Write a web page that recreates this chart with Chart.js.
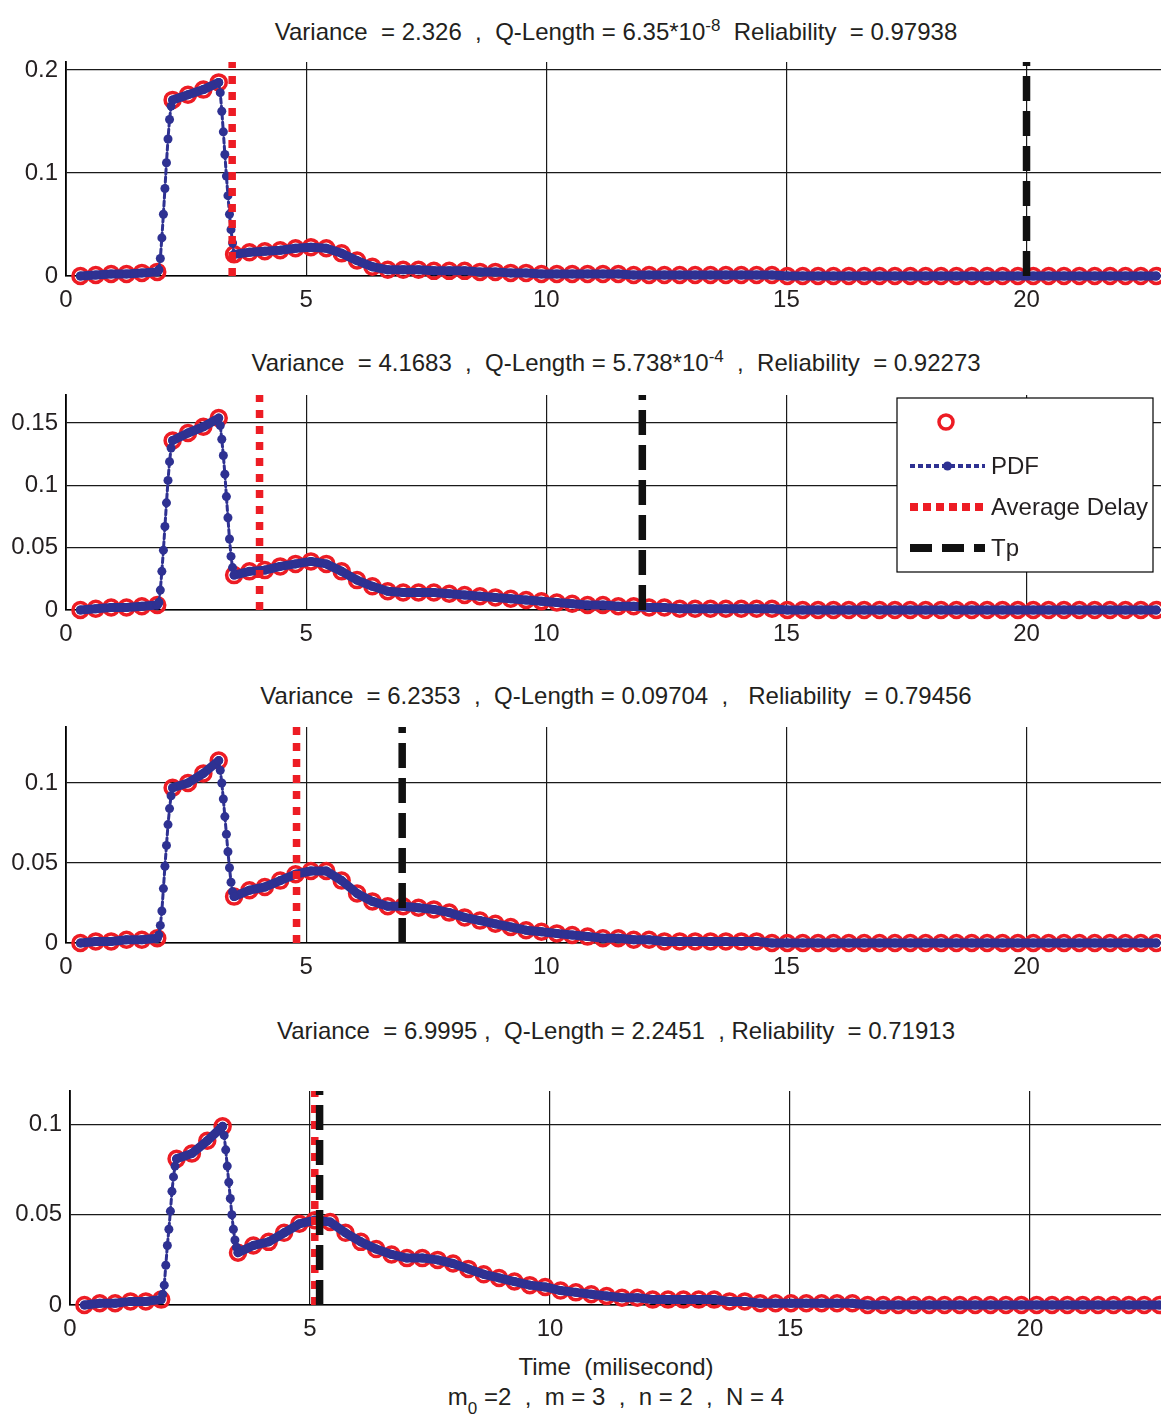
<!DOCTYPE html>
<html>
<head>
<meta charset="utf-8">
<script src="https://cdn.jsdelivr.net/npm/chart.js@4.4.1/dist/chart.umd.min.js"></script>
<style>
    body { margin: 0; background: #fff; }
    #page { position: relative; width: 1161px; height: 1419px; overflow: hidden;
            font-family: 'Liberation Sans', Arial, sans-serif; color: #231f20; background: #fff; }
    .ttl { position: absolute; left: 616px; transform: translateX(-50%); font-size: 24px;
           line-height: 28px; white-space: pre; }
    .ttl sup { font-size: 17px; vertical-align: 9px; line-height: 0; }
    .ttl sub { font-size: 17px; vertical-align: -9px; line-height: 0; }
    canvas { position: absolute; left: 0; }
</style>
</head>
<body>
<div id="page">
    <div class="ttl" style="top:18px">Variance  = 2.326  ,  Q-Length = 6.35*10<sup>-8</sup>  Reliability  = 0.97938</div>
    <div class="ttl" style="top:349px">Variance  = 4.1683  ,  Q-Length = 5.738*10<sup>-4</sup>  ,  Reliability  = 0.92273</div>
    <div class="ttl" style="top:682px">Variance  = 6.2353  ,  Q-Length = 0.09704  ,   Reliability  = 0.79456</div>
    <div class="ttl" style="top:1017px">Variance  = 6.9995 ,  Q-Length = 2.2451  , Reliability  = 0.71913</div>
    <div class="ttl" style="top:1353px">Time  (milisecond)</div>
    <div class="ttl" style="top:1383px">m<sub>0</sub> =2  ,  m = 3  ,  n = 2  ,  N = 4</div>

    <canvas id="c1" width="1161" height="275" style="top:50px"></canvas>
    <canvas id="c2" width="1161" height="275" style="top:383px"></canvas>
    <canvas id="c3" width="1161" height="275" style="top:715px"></canvas>
    <canvas id="c4" width="1161" height="273" style="top:1079px"></canvas>
</div>

<script>
// Sample times of the red circles (ms)
const TIME = [0.30, 0.62, 0.94, 1.26, 1.58, 1.90, 2.22, 2.54, 2.86, 3.18,
    3.50, 3.82, 4.14, 4.46, 4.78, 5.10, 5.42, 5.74, 6.06, 6.38,
    6.70, 7.02, 7.34, 7.66, 7.98, 8.30, 8.62, 8.94, 9.26, 9.58,
    9.90, 10.22, 10.54, 10.86, 11.18, 11.50, 11.82, 12.14, 12.46, 12.78,
    13.10, 13.42, 13.74, 14.06, 14.38, 14.70, 15.02, 15.34, 15.66, 15.98,
    16.30, 16.62, 16.94, 17.26, 17.58, 17.90, 18.22, 18.54, 18.86, 19.18,
    19.50, 19.82, 20.14, 20.46, 20.78, 21.10, 21.42, 21.74, 22.06, 22.38,
    22.70];

// Extra PDF samples on the steep edges (only the blue curve has them)
const RISE_T = [1.932, 1.964, 1.996, 2.028, 2.060, 2.092, 2.124, 2.156, 2.188];
const FALL_T = [3.212, 3.244, 3.276, 3.308, 3.340, 3.372, 3.404, 3.436, 3.468];

// Panel 1
const PDF_1 = [0.000, 0.001, 0.002, 0.002, 0.003, 0.004, 0.171, 0.176, 0.181, 0.188,
    0.021, 0.023, 0.024, 0.025, 0.027, 0.028, 0.027, 0.022, 0.015, 0.009,
    0.006, 0.006, 0.006, 0.005, 0.005, 0.005, 0.004, 0.004, 0.003, 0.003,
    0.002, 0.002, 0.002, 0.002, 0.002, 0.002, 0.001, 0.001, 0.001, 0.001,
    0.001, 0.001, 0.001, 0.001, 0.001, 0.001, 0, 0, 0, 0,
    0, 0, 0, 0, 0, 0, 0, 0, 0, 0,
    0, 0, 0, 0, 0, 0, 0, 0, 0, 0,
    0];
const RISE_1 = [0.006, 0.017, 0.037, 0.060, 0.085, 0.110, 0.133, 0.152, 0.165];
const FALL_1 = [0.178, 0.160, 0.140, 0.118, 0.097, 0.078, 0.060, 0.045, 0.032];

// Panel 2
const PDF_2 = [0.000, 0.001, 0.002, 0.002, 0.003, 0.004, 0.136, 0.142, 0.147, 0.154,
    0.028, 0.031, 0.032, 0.035, 0.037, 0.039, 0.037, 0.031, 0.024, 0.019,
    0.015, 0.014, 0.014, 0.014, 0.013, 0.012, 0.011, 0.010, 0.009, 0.008,
    0.007, 0.006, 0.005, 0.004, 0.004, 0.003, 0.003, 0.002, 0.002, 0.001,
    0.001, 0.001, 0.001, 0.001, 0.001, 0.001, 0, 0, 0, 0,
    0, 0, 0, 0, 0, 0, 0, 0, 0, 0,
    0, 0, 0, 0, 0, 0, 0, 0, 0, 0,
    0];
const RISE_2 = [0.006, 0.016, 0.031, 0.048, 0.067, 0.086, 0.104, 0.119, 0.130];
const FALL_2 = [0.148, 0.137, 0.124, 0.109, 0.091, 0.074, 0.057, 0.043, 0.034];

// Panel 3
const PDF_3 = [0.000, 0.001, 0.001, 0.002, 0.002, 0.003, 0.097, 0.100, 0.106, 0.114,
    0.029, 0.033, 0.035, 0.039, 0.043, 0.045, 0.045, 0.039, 0.031, 0.026,
    0.023, 0.023, 0.022, 0.021, 0.019, 0.016, 0.014, 0.012, 0.010, 0.008,
    0.007, 0.006, 0.005, 0.004, 0.003, 0.003, 0.002, 0.002, 0.001, 0.001,
    0.001, 0.001, 0.001, 0.001, 0.001, 0, 0, 0, 0, 0,
    0, 0, 0, 0, 0, 0, 0, 0, 0, 0,
    0, 0, 0, 0, 0, 0, 0, 0, 0, 0,
    0];
const RISE_3 = [0.005, 0.011, 0.020, 0.034, 0.048, 0.061, 0.074, 0.084, 0.092];
const FALL_3 = [0.108, 0.100, 0.090, 0.079, 0.068, 0.057, 0.047, 0.038, 0.032];

// Panel 4
const PDF_4 = [0.000, 0.001, 0.001, 0.002, 0.002, 0.003, 0.081, 0.084, 0.091, 0.099,
    0.029, 0.033, 0.035, 0.040, 0.045, 0.047, 0.046, 0.040, 0.035, 0.031,
    0.028, 0.026, 0.026, 0.025, 0.023, 0.020, 0.017, 0.015, 0.013, 0.011,
    0.010, 0.008, 0.007, 0.006, 0.005, 0.004, 0.004, 0.003, 0.003, 0.003,
    0.003, 0.003, 0.002, 0.002, 0.001, 0.001, 0.001, 0.001, 0.001, 0.001,
    0.001, 0, 0, 0, 0, 0, 0, 0, 0, 0,
    0, 0, 0, 0, 0, 0, 0, 0, 0, 0,
    0];
const RISE_4 = [0.006, 0.011, 0.022, 0.033, 0.042, 0.052, 0.063, 0.071, 0.077];
const FALL_4 = [0.094, 0.086, 0.077, 0.068, 0.059, 0.050, 0.042, 0.036, 0.032];

// Vertical markers per panel
const AVG_DELAY = [3.46, 4.03, 4.80, 5.10];
const TP = [20.0, 12.0, 7.0, 5.20];

// Axes
const X_TICKS = [0, 5, 10, 15, 20];
const X_MAX = [22.8, 22.8, 22.8, 22.73];
const Y_MAX = [0.2078, 0.1725, 0.135, 0.1186];
const Y_TICKS_1 = [0, 0.1, 0.2];
const Y_TICKS_2 = [0, 0.05, 0.1, 0.15];
const Y_TICKS_3 = [0, 0.05, 0.1];
const Y_TICKS_4 = [0, 0.05, 0.1];

const RED = '#ed1c24';
const NAVY = '#2e3192';
const INK = '#231f20';
const FONT = "'Liberation Sans', Arial, sans-serif";

// steep parts of the PDF are drawn as a thin dash-dot, the rest as a thick band
const steep = ctx => Math.abs(ctx.p1.y - ctx.p0.y) > 2 * Math.abs(ctx.p1.x - ctx.p0.x);

function pdfPoints(pdf, rise, fall) {
    const pts = TIME.map((t, i) => ({ x: t, y: pdf[i] }));
    RISE_T.forEach((t, i) => pts.push({ x: t, y: rise[i] }));
    FALL_T.forEach((t, i) => pts.push({ x: t, y: fall[i] }));
    return pts.sort((a, b) => a.x - b.x);
}

// no label overflow padding, the plot box is placed by hand
function noPad(ax) {
    ax.paddingTop = 0;
    ax.paddingBottom = 0;
    ax.paddingLeft = 0;
    ax.paddingRight = 0;
}

// Legend drawn inside panel 2 (MATLAB style box)
const legendBox = {
    id: 'legendBox',
    afterDraw(chart) {
        const c = chart.ctx;
        const a = chart.chartArea;
        const x0 = a.right - 264, y0 = a.top + 3, w = 256, h = 174;
        const sx0 = x0 + 13, sx1 = x0 + 88, tx = x0 + 94;
        c.save();
        c.fillStyle = '#fff';
        c.fillRect(x0, y0, w, h);
        c.strokeStyle = '#000';
        c.lineWidth = 1.2;
        c.strokeRect(x0, y0, w, h);

        // circles entry
        c.beginPath();
        c.arc(x0 + 49, y0 + 24, 7, 0, Math.PI * 2);
        c.strokeStyle = RED;
        c.lineWidth = 3.5;
        c.stroke();

        const rows = [
            { y: y0 + 68, color: NAVY, width: 4, dash: [5, 3], dot: true, text: 'PDF' },
            { y: y0 + 109, color: RED, width: 8, dash: [8, 5], dot: false, text: 'Average Delay' },
            { y: y0 + 150, color: '#111', width: 8, dash: [22, 10], dot: false, text: 'Tp' }
        ];
        c.font = '24px ' + FONT;
        c.textBaseline = 'middle';
        rows.forEach(r => {
            c.beginPath();
            c.setLineDash(r.dash);
            c.strokeStyle = r.color;
            c.lineWidth = r.width;
            c.moveTo(sx0, r.y);
            c.lineTo(sx1, r.y);
            c.stroke();
            c.setLineDash([]);
            if (r.dot) {
                c.beginPath();
                c.arc((sx0 + sx1) / 2, r.y, 4.5, 0, Math.PI * 2);
                c.fillStyle = r.color;
                c.fill();
            }
            c.fillStyle = INK;
            c.fillText(r.text, tx, r.y + 1);
        });
        c.restore();
    }
};

const PANELS = [
    { id: 'c1', pdf: PDF_1, rise: RISE_1, fall: FALL_1, yTicks: Y_TICKS_1, axisW: 66, axisH: 49 },
    { id: 'c2', pdf: PDF_2, rise: RISE_2, fall: FALL_2, yTicks: Y_TICKS_2, axisW: 66, axisH: 48, legend: true },
    { id: 'c3', pdf: PDF_3, rise: RISE_3, fall: FALL_3, yTicks: Y_TICKS_3, axisW: 66, axisH: 47 },
    { id: 'c4', pdf: PDF_4, rise: RISE_4, fall: FALL_4, yTicks: Y_TICKS_4, axisW: 70, axisH: 47 }
];

function makePanel(p, i) {
    const ctx = document.getElementById(p.id).getContext('2d');
    const ymax = Y_MAX[i];

    return new Chart(ctx, {
        type: 'line',
        data: {
            datasets: [
                {
                    label: '',
                    data: TIME.map((t, k) => ({ x: t, y: p.pdf[k] })),
                    showLine: false,
                    pointRadius: 7.5,
                    pointBorderWidth: 3.5,
                    pointBorderColor: RED,
                    pointBackgroundColor: 'rgba(0,0,0,0)',
                    clip: false,
                    order: 4
                },
                {
                    label: 'PDF',
                    data: pdfPoints(p.pdf, p.rise, p.fall),
                    borderColor: NAVY,
                    borderWidth: 9,
                    borderJoinStyle: 'round',
                    borderCapStyle: 'round',
                    pointRadius: 4.5,
                    pointBorderWidth: 0,
                    pointBackgroundColor: NAVY,
                    segment: {
                        borderWidth: c => steep(c) ? 3 : 9,
                        borderDash: c => steep(c) ? [5, 3] : undefined
                    },
                    clip: false,
                    order: 3
                },
                {
                    label: 'Average Delay',
                    data: [{ x: AVG_DELAY[i], y: 0 }, { x: AVG_DELAY[i], y: ymax }],
                    borderColor: RED,
                    borderWidth: 7.5,
                    borderDash: [8, 8],
                    borderCapStyle: 'butt',
                    pointRadius: 0,
                    order: 2
                },
                {
                    label: 'Tp',
                    data: [{ x: TP[i], y: 0 }, { x: TP[i], y: ymax }],
                    borderColor: '#111',
                    borderWidth: 7.5,
                    borderDash: [25, 10],
                    borderCapStyle: 'butt',
                    pointRadius: 0,
                    order: 1
                }
            ]
        },
        options: {
            responsive: false,
            animation: false,
            devicePixelRatio: 1,
            layout: { autoPadding: false, padding: { top: 12, right: 0, bottom: 0, left: 0 } },
            plugins: {
                legend: { display: false },
                tooltip: { enabled: false }
            },
            scales: {
                x: {
                    type: 'linear',
                    min: 0,
                    max: X_MAX[i],
                    afterBuildTicks: ax => { ax.ticks = X_TICKS.map(v => ({ value: v })); },
                    afterFit: ax => { ax.height = p.axisH; noPad(ax); },
                    grid: { color: '#1a1a1a', lineWidth: 1.2, drawTicks: false },
                    border: { display: true, color: '#000', width: 1.5 },
                    ticks: {
                        font: { family: FONT, size: 24 },
                        color: INK,
                        padding: 10,
                        maxRotation: 0,
                        callback: v => String(v)
                    }
                },
                y: {
                    min: 0,
                    max: ymax,
                    afterBuildTicks: ax => { ax.ticks = p.yTicks.map(v => ({ value: v })); },
                    afterFit: ax => { ax.width = p.axisW; noPad(ax); },
                    grid: { color: '#1a1a1a', lineWidth: 1.2, drawTicks: false },
                    border: { display: true, color: '#000', width: 1.8 },
                    ticks: {
                        font: { family: FONT, size: 24 },
                        color: INK,
                        padding: 8,
                        callback: v => String(v)
                    }
                }
            }
        },
        plugins: p.legend ? [legendBox] : []
    });
}

document.addEventListener('DOMContentLoaded', () => {
    PANELS.forEach(makePanel);
});
</script>
</body>
</html>
